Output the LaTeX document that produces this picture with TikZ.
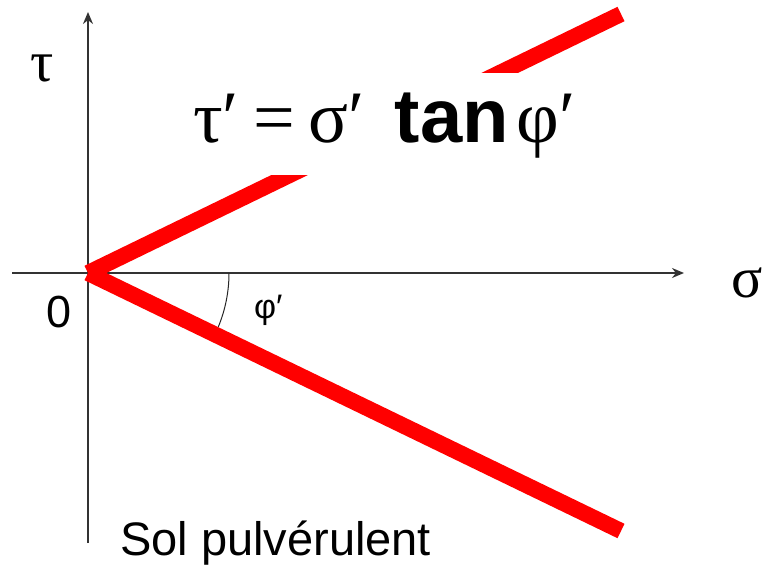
\documentclass[tikz,border=0pt]{standalone}
\usepackage{fontspec}
\setmainfont{Liberation Sans}
\newfontfamily\grk{Liberation Serif}
\usetikzlibrary{arrows.meta}
\begin{document}
\begin{tikzpicture}[x=1pt,y=-1pt,
  axis/.style={draw=black!80, line width=1.6pt, -{Stealth[length=12pt,width=10pt]}},
  redline/.style={draw=red, line width=16pt},
  anglearc/.style={draw=black!85, line width=1pt},
  lbl/.style={inner sep=0pt, anchor=base west}]
\useasboundingbox (0,0) rectangle (767,567);
\coordinate (O) at (88,273);
\coordinate (U) at (621,14);
\coordinate (L) at (621,531);
\coordinate (xs) at (12,273);
\coordinate (xe) at (684,273);
\coordinate (ys) at (88,543);
\coordinate (ye) at (88,12);
\coordinate (arcstart) at (229,273);
\draw[axis] (xs) -- (xe);
\draw[axis] (ys) -- (ye);
\draw[redline] (O) -- (U);
\draw[redline] (O) -- (L);
\draw[anglearc] (arcstart) arc[start angle=0, end angle=22.5, radius=141];
\node[lbl, fill=white, text height=69pt, text depth=33pt, inner xsep=12pt, inner ysep=0pt] (formula) at (181,142)
  {\fontsize{74}{74}\selectfont{\grk τ′\hspace{14pt}=\hspace{14pt}σ′}\hspace{30pt}{\fontsize{76}{76}\selectfont\bfseries tan}\hspace{8pt}{\grk φ′}};
\node[lbl] (tau) at (30,82) {\fontsize{58}{58}\selectfont\grk τ};
\node[lbl] (sigma) at (731,297) {\fontsize{58}{58}\selectfont\grk σ};
\node[lbl] (zero) at (46,327) {\fontsize{45}{45}\selectfont 0};
\node[lbl] (phi) at (254,318) {\fontsize{34}{34}\selectfont φ′};
\node[lbl] (sol) at (120,555) {\fontsize{47}{47}\selectfont Sol pulvérulent};
\end{tikzpicture}
\end{document}
